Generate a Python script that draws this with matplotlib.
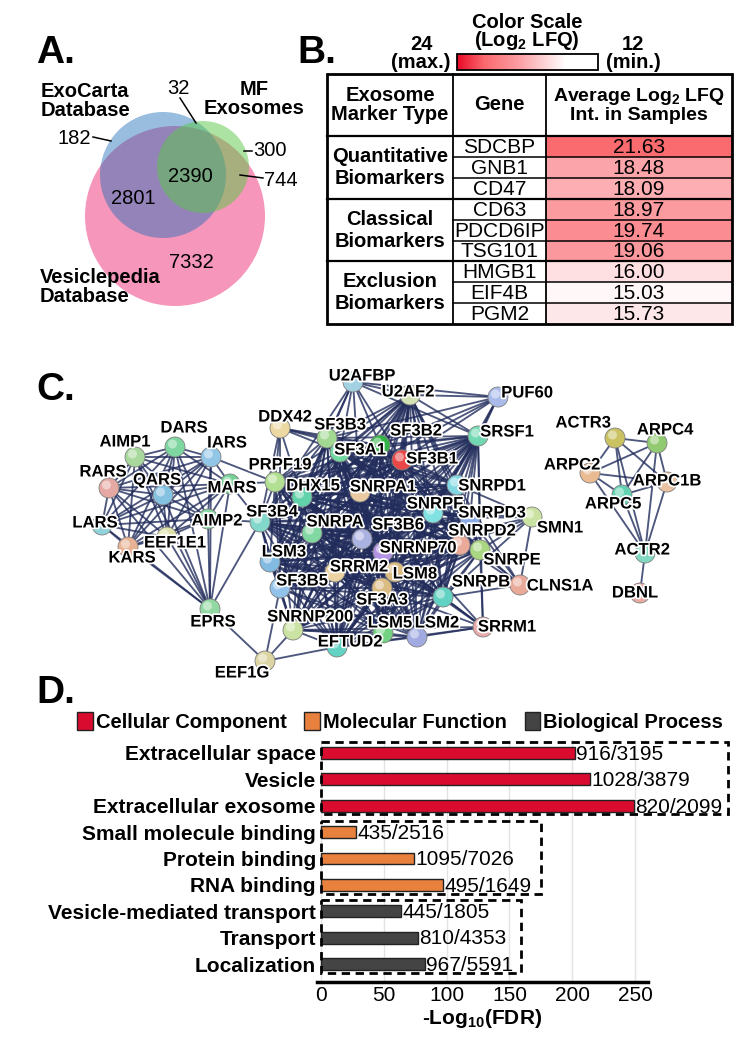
import numpy as np
import matplotlib
matplotlib.use("Agg")
import matplotlib.pyplot as plt
import matplotlib.patheffects as pe
from matplotlib.patches import Circle, Rectangle, Patch
from matplotlib.collections import LineCollection
from matplotlib.colors import LinearSegmentedColormap, Normalize

plt.rcParams['font.family'] = ['Liberation Sans', 'DejaVu Sans']
plt.rcParams['mathtext.fontset'] = 'custom'
plt.rcParams['mathtext.rm'] = 'Liberation Sans'
plt.rcParams['mathtext.bf'] = 'Liberation Sans:bold'

# --------------------------------------------------------------------------
# data
# --------------------------------------------------------------------------
# A. Venn
venn_names = ["ExoCarta\nDatabase", "MF\nExosomes", "Vesiclepedia\nDatabase"]
venn_regions = ["exo_only", "exo_mf", "mf_only", "mf_ves", "exo_ves", "all", "ves_only"]
venn_counts = [182, 32, 300, 744, 2801, 2390, 7332]

# B. exosome markers
marker_types = ["Quantitative\nBiomarkers", "Classical\nBiomarkers", "Exclusion\nBiomarkers"]
marker_genes = [["SDCBP", "GNB1", "CD47"],
                ["CD63", "PDCD6IP", "TSG101"],
                ["HMGB1", "EIF4B", "PGM2"]]
marker_lfq = [[21.63, 18.48, 18.09],
              [18.97, 19.74, 19.06],
              [16.00, 15.03, 15.73]]
scale_max, scale_min = 24, 12

# C. STRING network (clusters are fully connected)
cluster_trna = ["AIMP1", "DARS", "IARS", "RARS", "QARS", "MARS", "LARS",
                "AIMP2", "EEF1E1", "KARS", "EPRS"]
cluster_splice = ["SF3B3", "SF3B2", "SF3A1", "SF3B1", "PRPF19", "DHX15", "SNRPA1",
                  "SNRPD1", "SNRPF", "SNRPD3", "SNRPD2", "SNRPE", "SNRNP70", "SF3B6",
                  "SNRPA", "SF3B4", "LSM3", "SRRM2", "LSM8", "SF3B5", "SNRPB", "SF3A3",
                  "SNRNP200", "EFTUD2", "LSM5", "LSM2", "U2AF2", "SRSF1"]
cluster_arp = ["ACTR3", "ARPC4", "ARPC2", "ARPC1B", "ARPC5", "ACTR2"]
extra_links = {
    "U2AFBP": ["U2AF2", "SF3B1", "SF3B3", "SF3A1", "SF3B2", "SRSF1", "DHX15", "SNRPA1", "PUF60", "SF3B4"],
    "PUF60": ["U2AF2", "SF3B1", "SF3B2", "SRSF1", "SNRPD1", "SF3B3", "SNRPF", "SF3B4"],
    "DDX42": ["SF3B3", "SF3B1", "SF3B2", "SF3A1", "PRPF19", "SF3B4", "SF3B5", "DHX15"],
    "SMN1": ["SNRPD1", "SNRPD2", "SNRPD3", "SNRPE", "SNRPF", "SNRPB", "CLNS1A", "SNRNP70"],
    "CLNS1A": ["SNRPD1", "SNRPD2", "SNRPD3", "SNRPE", "SNRPF", "SNRPB"],
    "SRRM1": ["SRRM2", "SNRNP200", "SNRPB", "SRSF1", "SNRNP70", "SNRPE", "SNRPA1", "EFTUD2", "LSM2", "PRPF19"],
    "EEF1G": ["EPRS", "SF3B5", "SNRNP200", "EFTUD2"],
    "MARS": ["PRPF19", "SF3B4"],
    "IARS": ["PRPF19"],
    "AIMP2": ["SF3B4"],
    "EPRS": ["SF3B4"],
    "DBNL": ["ACTR2"],
}

# D. GO enrichment
go_terms = ["Extracellular space", "Vesicle", "Extracellular exosome",
            "Small molecule binding", "Protein binding", "RNA binding",
            "Vesicle-mediated transport", "Transport", "Localization"]
go_fdr = [202, 214, 249, 28, 74, 97, 64, 77, 83]
go_genes = ["916/3195", "1028/3879", "820/2099", "435/2516", "1095/7026",
            "495/1649", "445/1805", "810/4353", "967/5591"]
go_class = ["Cellular Component"] * 3 + ["Molecular Function"] * 3 + ["Biological Process"] * 3
go_classes = ["Cellular Component", "Molecular Function", "Biological Process"]

# --------------------------------------------------------------------------
# layout (pixel coordinates, y down)
# --------------------------------------------------------------------------
W, H = 749, 1038
venn_circles = {"exo": ((163, 175), 63, "#1e6eb9", 0.45),
                "ves": ((175, 216), 90, "#f0508c", 0.6),
                "mf": ((203, 167), 46, "#5ac846", 0.5)}
venn_text_pos = {"exo_only": (74, 138), "exo_mf": (178, 88), "mf_only": (270, 150),
                 "mf_ves": (281, 180), "exo_ves": (133, 198), "all": (190, 177),
                 "ves_only": (191, 262)}
venn_leaders = {"exo_only": ((93, 137), (111, 141)), "exo_mf": ((180, 98), (196, 123)),
                "mf_only": ((244, 151), (252, 151)), "mf_ves": ((240, 175), (263, 178))}

nodes = {  # name: (node x, node y, label x, label y, colour)
    "AIMP1": (135, 457, 125, 442, "#a8d89c"), "DARS": (175, 447, 184, 428, "#7ed6a0"),
    "IARS": (211, 457, 227, 443, "#92c6e6"), "RARS": (109, 488, 103, 472, "#e6a8a2"),
    "QARS": (163, 495, 157, 480, "#84c2e2"), "MARS": (230, 484, 232, 488, "#72d092"),
    "LARS": (102, 525, 95, 523, "#92d2da"), "AIMP2": (208, 519, 217, 521, "#82d8a0"),
    "EEF1E1": (167, 537, 175, 543, "#dde2aa"), "KARS": (128, 547, 132, 558, "#e8b294"),
    "EPRS": (210, 609, 213, 622, "#92d8a2"), "EEF1G": (265, 661, 242, 673, "#dcd4a2"),
    "U2AFBP": (353, 382, 362, 376, "#a2d2e2"), "U2AF2": (410, 395, 408, 392, "#d2e2b2"),
    "DDX42": (280, 428, 285, 417, "#ecd8a2"), "SF3B3": (327, 438, 340, 425, "#a2d892"),
    "SF3B2": (380, 445, 416, 431, "#34b448"), "SF3A1": (340, 452, 360, 450, "#72d8a2"),
    "SF3B1": (402, 460, 432, 459, "#ea4848"), "PRPF19": (275, 482, 280, 465, "#b2e092"),
    "DHX15": (302, 497, 313, 486, "#62d2aa"), "SNRPA1": (360, 492, 383, 487, "#eacaa2"),
    "PUF60": (498, 397, 527, 393, "#aabaea"), "SRSF1": (478, 436, 507, 432, "#72d8b2"),
    "SNRPD1": (457, 485, 492, 486, "#82d8e2"), "SNRPF": (433, 513, 435, 504, "#82e2e2"),
    "SNRPD3": (470, 518, 492, 513, "#8aaae6"), "SMN1": (532, 517, 560, 528, "#cae2a2"),
    "SNRPD2": (460, 545, 482, 531, "#eaaa9a"), "SNRPE": (480, 550, 512, 560, "#aad882"),
    "SNRNP70": (383, 552, 418, 548, "#b292e2"), "SF3B6": (362, 539, 398, 525, "#aab2e2"),
    "SNRPA": (312, 533, 335, 522, "#82d8a2"), "SF3B4": (260, 522, 272, 512, "#82d8ca"),
    "LSM3": (270, 562, 284, 552, "#82bae2"), "SRRM2": (335, 572, 359, 567, "#ead2a2"),
    "LSM8": (395, 572, 415, 574, "#dabb82"), "SF3A3": (382, 588, 382, 600, "#dabb82"),
    "SF3B5": (280, 588, 302, 581, "#92c2ea"), "SNRPB": (443, 597, 481, 582, "#62d2c2"),
    "CLNS1A": (520, 585, 560, 586, "#eaaa9a"), "SNRNP200": (293, 630, 310, 617, "#cae2a2"),
    "EFTUD2": (337, 647, 350, 642, "#62d2c2"), "LSM5": (383, 633, 390, 623, "#72d282"),
    "LSM2": (417, 637, 437, 623, "#a2aae2"), "SRRM1": (483, 627, 507, 627, "#eaaaaa"),
    "ACTR3": (615, 438, 583, 423, "#cac262"), "ARPC4": (657, 443, 665, 430, "#92ca72"),
    "ARPC2": (590, 473, 572, 465, "#eaba92"), "ARPC1B": (667, 482, 667, 481, "#eac2a2"),
    "ARPC5": (622, 495, 613, 504, "#62d2b2"), "ACTR2": (645, 553, 642, 550, "#82d8c2"),
    "DBNL": (640, 593, 635, 593, "#eaaaa2"),
}

# --------------------------------------------------------------------------
fig = plt.figure(figsize=(W / 100, H / 100), dpi=100)
ax = fig.add_axes([0, 0, 1, 1])
ax.axis("off")

letter_kw = dict(fontsize=28, fontweight="bold", ha="left", va="baseline")
ax.text(36, 63, "A.", **letter_kw)
ax.text(297, 63, "B.", **letter_kw)
ax.text(36, 400, "C.", **letter_kw)
ax.text(36, 703, "D.", **letter_kw)

# ---------------- A. Venn ----------------
for key in ["ves", "exo", "mf"]:
    (cx, cy), r, col, a = venn_circles[key]
    ax.add_patch(Circle((cx, cy), r, fc=col, ec="none", alpha=a, zorder=1))

ax.text(41, 101, venn_names[0], fontsize=14.5, fontweight="bold", ha="left", va="center",
        linespacing=0.95)
ax.text(254, 99, venn_names[1], fontsize=14.5, fontweight="bold", ha="center", va="center",
        linespacing=0.95)
ax.text(40, 287, venn_names[2], fontsize=14.5, fontweight="bold", ha="left", va="center",
        linespacing=0.95)
for reg, cnt in zip(venn_regions, venn_counts):
    x, y = venn_text_pos[reg]
    ax.text(x, y, str(cnt), fontsize=14.5, ha="center", va="center", zorder=4)
    if reg in venn_leaders:
        (x1, y1), (x2, y2) = venn_leaders[reg]
        ax.plot([x1, x2], [y1, y2], color="black", lw=1.1, zorder=4)

# ---------------- B. marker table ----------------
cell_cmap = LinearSegmentedColormap.from_list(
    "lfq", [(0, "#ffffff"), (0.45, "#fb9ba0"), (0.75, "#fa6a6e"), (1, "#ea0a28")])
cell_norm = Normalize(vmin=14.7, vmax=scale_max, clip=True)

ax.text(527, 22, "Color Scale", fontsize=14.5, fontweight="bold", ha="center", va="center")
ax.text(527, 41, r"(Log$_\mathbf{2}$ LFQ)", fontsize=14.5, fontweight="bold",
        ha="center", va="center")
ax.text(421, 44, str(scale_max), fontsize=14.5, fontweight="bold", ha="center", va="center")
ax.text(421, 62, "(max.)", fontsize=14.5, fontweight="bold", ha="center", va="center")
ax.text(633, 44, str(scale_min), fontsize=14.5, fontweight="bold", ha="center", va="center")
ax.text(633, 62, "(min.)", fontsize=14.5, fontweight="bold", ha="center", va="center")
grad = np.linspace(scale_max, scale_min, 256)[None, :]
ax.imshow(grad, cmap=cell_cmap, norm=cell_norm, aspect="auto",
          extent=(457, 598, 70, 54), zorder=2)
ax.add_patch(Rectangle((457, 54), 141, 16, fc="none", ec="black", lw=1.3, zorder=3))

col_x = [327, 453, 546, 732]
y_top, y_head, row_h = 74, 136, 20.9
n_rows = sum(len(g) for g in marker_genes)
y_bot = y_head + n_rows * row_h

hdr_kw = dict(fontsize=14.5, fontweight="bold", ha="center", va="center", linespacing=1.05)
ax.text(390, 105, "Exosome\nMarker Type", **hdr_kw)
ax.text(499.5, 105, "Gene", **hdr_kw)
ax.text(639, 105, "Average Log$_\\mathbf{2}$ LFQ\nInt. in Samples", **dict(hdr_kw, fontsize=14))

row = 0
for mtype, genes, vals in zip(marker_types, marker_genes, marker_lfq):
    g_top = y_head + row * row_h
    ax.text(390, g_top + len(genes) * row_h / 2, mtype, fontsize=14.5, fontweight="bold",
            ha="center", va="center", linespacing=1.2)
    for gene, v in zip(genes, vals):
        ry = y_head + row * row_h
        ax.add_patch(Rectangle((col_x[2], ry), col_x[3] - col_x[2], row_h,
                               fc=cell_cmap(cell_norm(v)), ec="none", zorder=1))
        ax.text(499.5, ry + row_h / 2 + 1, gene, fontsize=15, ha="center", va="center")
        ax.text(639, ry + row_h / 2 + 1, f"{v:.2f}", fontsize=15, ha="center", va="center")
        if row > 0:
            x0 = col_x[0] if gene == genes[0] else col_x[1]
            ax.plot([x0, col_x[3]], [ry, ry], color="black",
                    lw=1.6 if gene == genes[0] else 1.1, zorder=3)
        row += 1

ax.plot([col_x[0], col_x[3]], [y_head, y_head], color="black", lw=1.6, zorder=3)
for x in col_x[1:3]:
    ax.plot([x, x], [y_top, y_bot], color="black", lw=1.3, zorder=3)
ax.add_patch(Rectangle((col_x[0], y_top), col_x[3] - col_x[0], y_bot - y_top,
                       fc="none", ec="black", lw=2, zorder=4))

# ---------------- C. network ----------------
edges = []
for cl in [cluster_trna, cluster_splice, cluster_arp]:
    for i in range(len(cl)):
        for j in range(i + 1, len(cl)):
            edges.append((cl[i], cl[j]))
for a, nbrs in extra_links.items():
    for b in nbrs:
        edges.append((a, b))
segs = [[nodes[a][:2], nodes[b][:2]] for a, b in edges]
ax.add_collection(LineCollection(segs, colors="#222d5c", linewidths=1.35, alpha=0.8, zorder=2))

for name, (nx, ny, lx, ly, col) in nodes.items():
    ax.add_patch(Circle((nx, ny), 10, fc=col, ec="#808080", lw=0.6, zorder=3))
    ax.add_patch(Circle((nx - 2.5, ny - 3), 4.5, fc="white", ec="none", alpha=0.45, zorder=3.1))
for name, (nx, ny, lx, ly, col) in nodes.items():
    ax.text(lx, ly, name, fontsize=12, fontweight="bold", ha="center", va="center", zorder=5,
            path_effects=[pe.withStroke(linewidth=2.5, foreground="white")])

ax.set_xlim(0, W)
ax.set_ylim(H, 0)

# ---------------- D. GO bar chart ----------------
class_colors = {"Cellular Component": "#d90b2e", "Molecular Function": "#e8803e",
                "Biological Process": "#444444"}
box_right = {"Cellular Component": 324, "Molecular Function": 175, "Biological Process": 159}

axd = fig.add_axes([317.2 / W, 1 - 982 / H, 330.4 / W, 242 / H])
axd.patch.set_alpha(0)
ypos = np.arange(len(go_terms))
axd.barh(ypos, go_fdr, height=0.45, color=[class_colors[c] for c in go_class],
         edgecolor="#222222", linewidth=1, zorder=2)
for y, v, lab in zip(ypos, go_fdr, go_genes):
    axd.text(v + 1, y + 0.05, lab, fontsize=15, va="center", ha="left", zorder=3)

for cls in go_classes:
    idx = [i for i, c in enumerate(go_class) if c == cls]
    y0, y1 = min(idx) - 0.43, max(idx) + 0.33
    axd.add_patch(Rectangle((0, y0), box_right[cls], y1 - y0, fill=False, ec="black",
                            lw=2, ls=(0, (3, 2)), clip_on=False, zorder=4))

axd.set_xlim(-3, 260)
axd.set_ylim(8.68, -0.49)
axd.set_xticks([0, 50, 100, 150, 200, 250])
axd.set_yticks(ypos)
axd.set_yticklabels(go_terms, fontsize=15, fontweight="bold")
axd.tick_params(axis="y", length=0, pad=1)
axd.tick_params(axis="x", length=0, pad=3, labelsize=15)
axd.xaxis.grid(True, color="#e3e3e3", lw=1)
axd.set_axisbelow(True)
for s in ["top", "right", "left"]:
    axd.spines[s].set_visible(False)
axd.spines["bottom"].set_linewidth(2.5)
axd.set_xlabel(r"-Log$_{\mathbf{10}}$(FDR)", fontsize=15, fontweight="bold", labelpad=1)

handles = [Patch(fc=class_colors[c], ec="#222222", lw=1) for c in go_classes]
fig.legend(handles, go_classes, loc="center", bbox_to_anchor=(400 / W, 1 - 722 / H),
           ncol=3, frameon=False, prop={"weight": "bold", "size": 14.5},
           handlelength=0.75, handleheight=1.0, handletextpad=0.15, columnspacing=0.9,
           borderaxespad=0, borderpad=0)

fig.savefig("out.png", dpi=100)
